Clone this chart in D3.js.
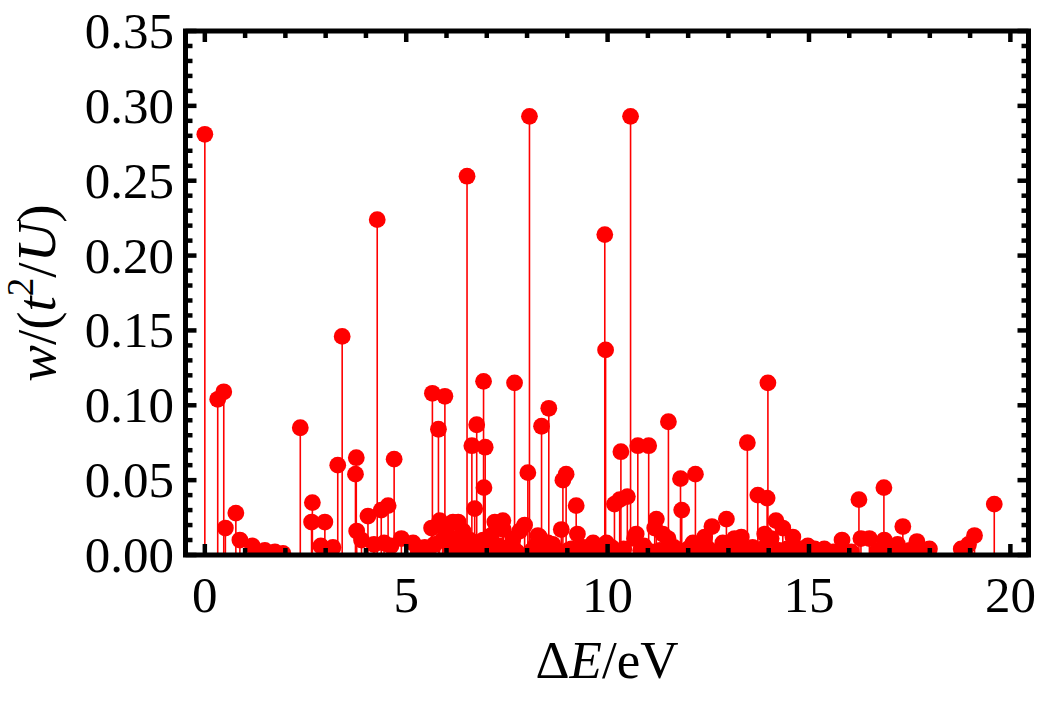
<!DOCTYPE html>
<html lang="en">
<head>
<meta charset="UTF-8">
<title>Stem plot</title>
<script src="https://d3js.org/d3.v7.min.js"></script>
<style>
  body { margin: 0; background: #fff; }
  text { font-family: "Liberation Serif", "DejaVu Serif", serif; fill: #000; }
</style>
</head>
<body>
<svg id="chart" width="1040" height="704"></svg>
<script>
// excitation energies (eV) and weights w/(t^2/U)
const energies = [
  0.00, 0.32, 0.47, 0.51, 0.77, 0.87, 1.18, 1.49, 1.74, 1.94,
  2.37, 2.65, 2.67, 2.88, 2.98, 3.18, 3.30, 3.41, 3.74, 3.76,
  3.77, 3.89, 4.05, 4.20, 4.28, 4.38, 4.45, 4.55, 4.62, 4.70,
  4.88, 5.17, 5.46, 5.63, 5.65, 5.70, 5.80, 5.83, 5.90, 5.96,
  5.98, 6.04, 6.16, 6.20, 6.29, 6.35, 6.41, 6.51, 6.58, 6.63,
  6.70, 6.75, 6.80, 6.91, 6.92, 6.93, 6.96, 7.11, 7.20, 7.24,
  7.30, 7.40, 7.41, 7.55, 7.65, 7.69, 7.82, 7.94, 8.02, 8.06,
  8.20, 8.27, 8.31, 8.36, 8.52, 8.54, 8.64, 8.85, 8.89, 8.97,
  9.10, 9.22, 9.25, 9.40, 9.60, 9.64, 9.80, 9.93, 9.95, 9.97,
  10.10, 10.17, 10.30, 10.33, 10.49, 10.57, 10.67, 10.71, 10.75, 10.90,
  11.02, 11.17, 11.21, 11.37, 11.50, 11.51, 11.65, 11.81, 11.84, 12.00,
  12.12, 12.18, 12.41, 12.59, 12.86, 12.95, 13.15, 13.32, 13.47, 13.60,
  13.73, 13.90, 13.96, 13.98, 14.06, 14.18, 14.35, 14.60, 14.80, 14.97,
  15.14, 15.38, 15.60, 15.82, 16.24, 16.29, 16.50, 16.86, 16.87, 17.05,
  17.20, 17.33, 17.50, 17.68, 17.99, 18.78, 18.96, 19.11, 19.60,
  // small weights lying along the baseline
  5.30, 5.55, 6.10, 6.45, 6.85, 7.05, 7.50, 7.75, 8.12, 8.45,
  8.75, 9.02, 9.32, 9.50, 9.72, 10.02, 10.40, 10.82, 11.10, 11.30,
  11.45, 11.72, 11.92, 12.28, 12.50, 12.72, 13.02, 13.24, 13.40, 13.85,
  14.26, 14.46, 14.70, 15.28, 15.48, 15.72, 16.05, 16.70, 17.12, 17.82,
  18.88
];
const weights = [
  0.281, 0.104, 0.109, 0.018, 0.028, 0.010, 0.006, 0.003, 0.002, 0.001,
  0.085, 0.022, 0.035, 0.006, 0.022, 0.005, 0.060, 0.146, 0.054, 0.065,
  0.016, 0.010, 0.026, 0.007, 0.224, 0.030, 0.008, 0.033, 0.006, 0.064,
  0.011, 0.008, 0.005, 0.018, 0.108, 0.007, 0.084, 0.023, 0.010, 0.106,
  0.017, 0.013, 0.022, 0.011, 0.022, 0.006, 0.016, 0.253, 0.010, 0.073,
  0.031, 0.087, 0.005, 0.010, 0.116, 0.045, 0.072, 0.013, 0.022, 0.020,
  0.006, 0.023, 0.017, 0.005, 0.011, 0.115, 0.016, 0.020, 0.055, 0.293,
  0.006, 0.013, 0.012, 0.086, 0.008, 0.098, 0.007, 0.017, 0.050, 0.054,
  0.004, 0.033, 0.014, 0.005, 0.006, 0.008, 0.004, 0.214, 0.137, 0.008,
  0.005, 0.034, 0.037, 0.069, 0.039, 0.293, 0.011, 0.014, 0.073, 0.006,
  0.073, 0.018, 0.024, 0.014, 0.011, 0.089, 0.005, 0.051, 0.030, 0.004,
  0.008, 0.054, 0.012, 0.019, 0.008, 0.024, 0.011, 0.012, 0.075, 0.005,
  0.040, 0.014, 0.038, 0.115, 0.011, 0.023, 0.018, 0.012, 0.004, 0.006,
  0.004, 0.004, 0.002, 0.010, 0.037, 0.011, 0.011, 0.045, 0.010, 0.004,
  0.007, 0.019, 0.003, 0.009, 0.004, 0.004, 0.007, 0.013, 0.034,
  0.002, 0.003, 0.004, 0.003, 0.002, 0.004, 0.003, 0.002, 0.003, 0.004,
  0.002, 0.003, 0.002, 0.003, 0.002, 0.003, 0.004, 0.003, 0.002, 0.003,
  0.002, 0.003, 0.002, 0.003, 0.004, 0.002, 0.003, 0.002, 0.003, 0.004,
  0.003, 0.004, 0.002, 0.002, 0.001, 0.002, 0.002, 0.003, 0.002, 0.002,
  0.001
];
const xMajor = [0, 5, 10, 15, 20];
const yMajor = [0, 0.05, 0.10, 0.15, 0.20, 0.25, 0.30, 0.35];

const svg = d3.select("#chart");
const fL = 185.5, fR = 1028.5, fT = 31, fB = 555;

const x = d3.scaleLinear().domain([-0.48, 20.45]).range([fL, fR]);
const y = d3.scaleLinear().domain([0, 0.35]).range([fB, fT]);

const data = energies.map((e, i) => ({ e: e, w: weights[i] }));

// clip marks to the plot range
svg.append("defs").append("clipPath").attr("id", "plotclip")
  .append("rect")
  .attr("x", fL).attr("y", fT)
  .attr("width", fR - fL).attr("height", fB - fT + 2);

const plot = svg.append("g").attr("clip-path", "url(#plotclip)");

// stems
plot.append("g").selectAll("line")
  .data(data)
  .enter().append("line")
  .attr("x1", d => x(d.e)).attr("x2", d => x(d.e))
  .attr("y1", y(0)).attr("y2", d => y(d.w))
  .attr("stroke", "#ff0000")
  .attr("stroke-width", 1.6);

// points
plot.append("g").selectAll("circle")
  .data(data)
  .enter().append("circle")
  .attr("cx", d => x(d.e))
  .attr("cy", d => y(d.w))
  .attr("r", 8.4)
  .attr("fill", "#ff0000");

// frame
svg.append("rect")
  .attr("x", fL).attr("y", fT)
  .attr("width", fR - fL).attr("height", fB - fT)
  .attr("fill", "none")
  .attr("stroke", "#000")
  .attr("stroke-width", 5);

// ticks on all four sides
const ticks = svg.append("g").attr("stroke", "#000").attr("stroke-width", 4.5);
d3.range(0, 21, 1).forEach(v => {
  const len = xMajor.includes(v) ? 11 : 7;
  ticks.append("line").attr("x1", x(v)).attr("x2", x(v)).attr("y1", fB).attr("y2", fB - len);
  ticks.append("line").attr("x1", x(v)).attr("x2", x(v)).attr("y1", fT).attr("y2", fT + len);
});
d3.range(0, 36, 1).forEach(k => {
  const v = k / 100;
  const len = k % 5 === 0 ? 11 : 7;
  ticks.append("line").attr("y1", y(v)).attr("y2", y(v)).attr("x1", fL).attr("x2", fL + len);
  ticks.append("line").attr("y1", y(v)).attr("y2", y(v)).attr("x1", fR).attr("x2", fR - len);
});

// tick labels
svg.append("g").selectAll("text")
  .data(xMajor)
  .enter().append("text")
  .attr("x", d => x(d))
  .attr("y", 612)
  .attr("text-anchor", "middle")
  .style("font-size", "51px")
  .text(d => d);

svg.append("g").selectAll("text")
  .data(yMajor)
  .enter().append("text")
  .attr("x", 174)
  .attr("y", d => y(d) + 17)
  .attr("text-anchor", "end")
  .style("font-size", "51px")
  .text(d => d3.format(".2f")(d));

// axis titles
const xt = svg.append("text")
  .attr("x", (fL + fR) / 2)
  .attr("y", 678)
  .attr("text-anchor", "middle")
  .style("font-size", "53px");
xt.append("tspan").text("\u0394");
xt.append("tspan").style("font-style", "italic").text("E");
xt.append("tspan").text("/eV");

const yt = svg.append("text")
  .attr("transform", `translate(55,${(fT + fB) / 2}) rotate(-90)`)
  .attr("text-anchor", "middle")
  .style("font-size", "55px");
yt.append("tspan").style("font-style", "italic").text("w");
yt.append("tspan").text("/(");
yt.append("tspan").style("font-style", "italic").text("t");
yt.append("tspan").attr("dy", -22).style("font-size", "37px").text("2");
yt.append("tspan").attr("dy", 22).text("/");
yt.append("tspan").style("font-style", "italic").text("U");
yt.append("tspan").text(")");
</script>
</body>
</html>
